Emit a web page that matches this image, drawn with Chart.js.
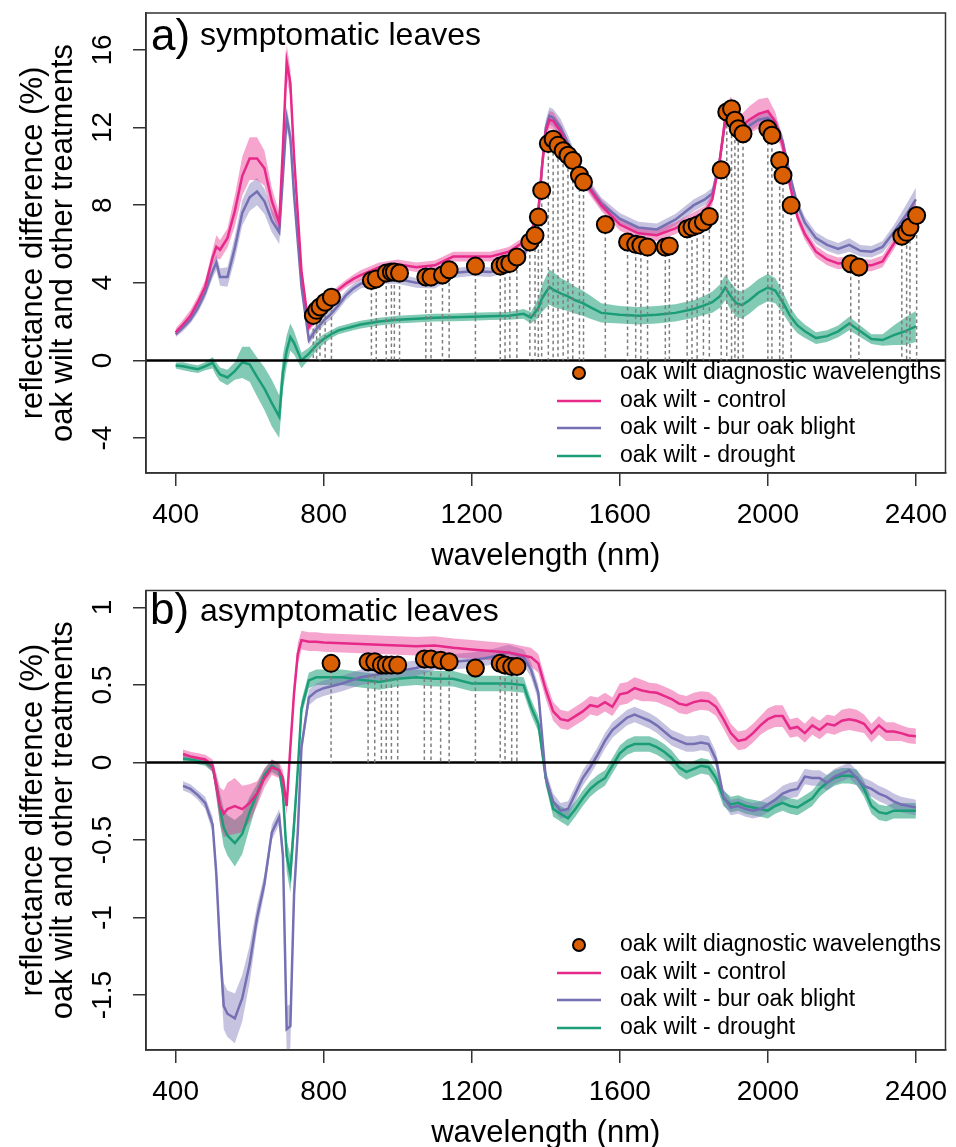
<!DOCTYPE html>
<html><head><meta charset="utf-8">
<script src="https://cdn.jsdelivr.net/npm/chart.js@4.4.0/dist/chart.umd.min.js"></script>
<style>
html,body{margin:0;padding:0;background:#fff;overflow:hidden;width:956px;height:1147px}
canvas{position:absolute;left:0}
#ca{top:0}
#cb{top:580px}
</style></head><body>
<canvas id="ca" width="956" height="580"></canvas>
<canvas id="cb" width="956" height="580"></canvas>
<script>
// ---------- panel a) symptomatic leaves ----------
const wlA = [400,420,440,460,480, 500,510,520,540,560, 580,600,620,640,660, 680,690,700,710,720,
  740,760,780,800,820, 840,860,880,900,950, 1000,1050,1100,1150,1200, 1250,1300,1340,1360,1380,
  1390,1400,1410,1420,1440, 1460,1480,1500,1520,1550, 1600,1650,1700,1750,1800, 1830,1850,1870,1885,1900,
  1915,1930,1950,1975,2000, 2020,2040,2060,2080,2100, 2130,2160,2190,2220,2250, 2280,2310,2340,2370,2400];
const controlA = [1.45,1.85,2.3,3.0,3.8, 5.3,5.85,5.7,6.3,7.7, 9.5,10.4,10.4,9.9,8.2, 7.1,11.0,15.4,14.3,10.5,
  4.6,1.7,2.2,2.9,3.3, 3.65,3.95,4.2,4.4,4.8, 4.95,4.8,4.9,5.35,5.35, 5.35,5.6,6.1,6.6,7.7,
  10.0,11.8,12.4,12.35,11.8, 11.0,10.1,9.4,8.8,8.0, 7.0,6.55,6.45,6.8,7.35, 7.65,8.3,10.3,12.5,12.9,
  12.4,12.1,12.4,12.7,12.85, 12.3,11.1,9.0,7.4,6.5, 5.6,5.2,5.0,5.05,4.9, 4.9,5.1,6.0,7.0,7.9];
const burA = [1.35,1.7,2.1,2.7,3.5, 4.6,5.05,4.3,4.3,5.8, 7.6,8.4,8.7,8.2,7.2, 6.6,9.5,12.5,11.5,8.5,
  3.8,1.05,1.6,2.05,2.4, 2.85,3.35,3.7,3.95,4.2, 4.2,4.0,3.95,4.5,4.6, 4.55,4.8,5.4,6.2,7.6,
  10.0,12.0,12.6,12.5,12.0, 11.2,10.3,9.5,8.9,8.1, 7.3,6.85,6.75,7.25,8.0, 8.3,8.6,10.3,12.3,12.7,
  12.2,11.9,12.1,12.4,12.5, 12.2,11.3,9.5,8.0,7.1, 6.3,5.95,5.75,5.95,5.65, 5.6,5.85,6.6,7.4,8.3];
const droughtA = [-0.26,-0.3,-0.38,-0.45,-0.3, -0.12,-0.45,-0.72,-0.88,-0.55, -0.1,-0.2,-0.85,-1.45,-2.2, -2.9,-0.6,0.5,1.2,0.9,
  0.0,0.35,0.78,1.1,1.35, 1.55,1.65,1.75,1.85,2.0, 2.1,2.15,2.2,2.22,2.25, 2.28,2.3,2.4,2.2,2.7,
  3.2,3.5,3.78,3.65,3.45, 3.3,3.1,2.95,2.75,2.45, 2.35,2.3,2.35,2.45,2.65, 2.85,3.0,3.3,3.75,3.3,
  2.95,2.85,3.1,3.5,3.75, 3.6,3.0,2.3,1.8,1.5, 1.15,1.25,1.5,1.9,1.5, 1.1,1.05,1.3,1.5,1.75];
const controlBandA = [0.2,0.25,0.3,0.3,0.35, 0.4,0.6,0.5,0.5,0.8, 1.0,1.1,1.1,0.9,0.7, 0.5,0.7,0.9,0.7,0.5,
  0.4,0.25,0.2,0.2,0.2, 0.2,0.2,0.22,0.25,0.25, 0.25,0.25,0.25,0.25,0.25, 0.25,0.25,0.25,0.25,0.3,
  0.35,0.4,0.45,0.45,0.4, 0.35,0.35,0.3,0.3,0.3, 0.3,0.3,0.3,0.3,0.3, 0.3,0.3,0.35,0.5,0.7,
  0.6,0.6,0.7,0.75,0.7, 0.5,0.4,0.3,0.3,0.3, 0.3,0.3,0.3,0.3,0.3, 0.3,0.3,0.3,0.35,0.45];
const burBandA = [0.15,0.2,0.2,0.25,0.3, 0.35,0.4,0.45,0.5,0.6, 0.65,0.7,0.7,0.65,0.6, 0.6,0.6,0.6,0.5,0.4,
  0.3,0.25,0.25,0.25,0.25, 0.25,0.25,0.25,0.25,0.25, 0.25,0.25,0.25,0.25,0.25, 0.25,0.25,0.25,0.25,0.25,
  0.35,0.4,0.45,0.45,0.45, 0.4,0.4,0.35,0.3,0.3, 0.3,0.3,0.3,0.3,0.3, 0.3,0.3,0.3,0.3,0.3,
  0.3,0.3,0.3,0.3,0.3, 0.3,0.3,0.3,0.3,0.3, 0.3,0.3,0.3,0.35,0.3, 0.3,0.3,0.35,0.5,0.6];
const droughtBandA = [0.15,0.2,0.2,0.2,0.2, 0.3,0.35,0.35,0.4,0.45, 0.8,0.9,1.0,1.1,1.2, 1.1,0.9,0.8,0.7,0.6,
  0.4,0.3,0.3,0.25,0.2, 0.2,0.2,0.2,0.2,0.2, 0.2,0.2,0.2,0.2,0.2, 0.2,0.2,0.25,0.3,0.5,
  0.7,0.8,0.9,0.9,0.8, 0.75,0.7,0.65,0.6,0.5, 0.45,0.45,0.45,0.45,0.45, 0.5,0.55,0.6,0.65,0.7,
  0.7,0.7,0.7,0.7,0.7, 0.65,0.55,0.45,0.4,0.35, 0.3,0.3,0.3,0.35,0.3, 0.25,0.3,0.5,0.7,0.8];
const diagWlA = [772,781,790,804,821, 929,942,969,983,991,1005, 1076,1090,1121,1139, 1210,
  1277,1290,1303,1322, 1357,1371,1380,1389,1407,1420,1433,1447,1460,1473,1491,1502, 1561,
  1621,1643,1657,1675, 1723,1734, 1782,1795,1809,1826,1842, 1874,1889,1902,1911,1920,1933,
  2000,2011,2032,2041,2063, 2224,2246, 2362,2375,2384,2402];
const diagValA = [2.32,2.58,2.75,3.0,3.26, 4.12,4.2,4.5,4.55,4.55,4.5, 4.3,4.3,4.4,4.67, 4.86,
  4.86,4.95,5.0,5.33, 6.1,6.44,7.39,8.76,11.17,11.4,11.08,10.8,10.57,10.3,9.54,9.19, 7.0,
  6.1,5.98,5.93,5.84, 5.84,5.9, 6.78,6.87,6.96,7.13,7.42, 9.82,12.8,12.97,12.37,11.94,11.68,
  11.94,11.6,10.3,9.54,7.99, 4.98,4.81, 6.4,6.6,6.87,7.47];
const yTicksA = [-4,0,4,8,12,16];

// ---------- panel b) asymptomatic leaves ----------
const wlB = [420,440,460,480,500, 510,520,530,540, 560,580,600,620,640,660,680, 690,700,710,720,730,740,
  760,780,800, 850,900,950,1000,1050,1100,1150,1200,1250,1300, 1340,1360,
  1380,1400,1420,1440,1460,1480,1500,1520,1540,1560, 1580,1600,1620,1640,1660,1680,1700,1720,1740,1760,
  1780,1800,1820,1840,1860,1880,1900,1920,1940,1960, 1980,2000,2020,2040,2060,2080,2100,2120,2140,2160,
  2180,2200,2220,2240,2260,2280,2300,2320,2340,2360, 2380,2400];
const controlB = [0.055,0.04,0.03,0.02,-0.02, -0.15,-0.28,-0.33,-0.3, -0.28,-0.3,-0.26,-0.2,-0.1,-0.03,-0.05, -0.1,-0.28,0.1,0.45,0.7,0.79,
  0.78,0.78,0.775, 0.77,0.765,0.76,0.755,0.75,0.755,0.74,0.73,0.72,0.71, 0.69,0.68,
  0.64,0.47,0.33,0.28,0.27,0.3,0.33,0.37,0.36,0.39, 0.36,0.44,0.45,0.48,0.465,0.455,0.45,0.43,0.41,0.38,
  0.37,0.39,0.40,0.395,0.36,0.28,0.19,0.14,0.15,0.19, 0.24,0.28,0.3,0.3,0.22,0.23,0.19,0.24,0.21,0.25,
  0.24,0.27,0.28,0.27,0.25,0.19,0.24,0.2,0.2,0.19, 0.175,0.17];
const burB = [-0.15,-0.17,-0.21,-0.26,-0.4, -0.72,-1.2,-1.57,-1.62, -1.65,-1.52,-1.3,-1.0,-0.78,-0.45,-0.35, -0.6,-1.72,-1.7,-0.85,-0.45,0.1,
  0.42,0.46,0.48, 0.51,0.55,0.57,0.59,0.61,0.645,0.65,0.66,0.68,0.71, 0.68,0.6,
  0.45,-0.1,-0.25,-0.31,-0.3,-0.2,-0.1,-0.03,0.05,0.14, 0.21,0.25,0.29,0.31,0.29,0.27,0.24,0.2,0.16,0.14,
  0.12,0.12,0.13,0.12,0.02,-0.22,-0.29,-0.28,-0.3,-0.31, -0.3,-0.27,-0.24,-0.2,-0.18,-0.17,-0.09,-0.1,-0.1,-0.13,
  -0.09,-0.07,-0.05,-0.1,-0.15,-0.17,-0.2,-0.22,-0.25,-0.27, -0.28,-0.29];
const droughtB = [0.025,0.02,0.01,0.0,-0.03, -0.15,-0.3,-0.42,-0.47, -0.52,-0.46,-0.32,-0.2,-0.08,-0.02,-0.05, -0.2,-0.6,-0.72,-0.4,-0.05,0.35,
  0.53,0.55,0.55, 0.55,0.535,0.52,0.54,0.55,0.54,0.54,0.51,0.51,0.51, 0.5,0.36,
  0.25,-0.1,-0.3,-0.33,-0.36,-0.3,-0.23,-0.17,-0.13,-0.1, -0.02,0.06,0.1,0.12,0.12,0.12,0.1,0.07,0.03,-0.03,
  -0.06,-0.04,-0.02,-0.03,-0.1,-0.23,-0.27,-0.26,-0.28,-0.29, -0.3,-0.31,-0.28,-0.26,-0.28,-0.29,-0.26,-0.23,-0.17,-0.13,
  -0.1,-0.085,-0.085,-0.095,-0.17,-0.28,-0.32,-0.33,-0.31,-0.31, -0.31,-0.31];
const controlBandB = [0.03,0.03,0.03,0.03,0.04, 0.08,0.12,0.15,0.17, 0.18,0.15,0.12,0.08,0.06,0.05,0.05, 0.05,0.06,0.07,0.07,0.07,0.06,
  0.06,0.06,0.06, 0.06,0.06,0.06,0.06,0.06,0.06,0.06,0.06,0.06,0.06, 0.06,0.06,
  0.06,0.06,0.06,0.06,0.06,0.06,0.06,0.06,0.06,0.06, 0.06,0.07,0.07,0.07,0.07,0.06,0.06,0.06,0.06,0.06,
  0.06,0.06,0.06,0.06,0.06,0.06,0.06,0.06,0.06,0.06, 0.06,0.07,0.07,0.07,0.06,0.06,0.06,0.06,0.06,0.06,
  0.06,0.07,0.07,0.07,0.06,0.06,0.06,0.06,0.06,0.05, 0.05,0.05];
const burBandB = [0.03,0.03,0.03,0.04,0.05, 0.08,0.12,0.15,0.15, 0.16,0.15,0.12,0.08,0.06,0.05,0.05, 0.08,0.15,0.14,0.08,0.06,0.05,
  0.05,0.05,0.05, 0.05,0.05,0.05,0.05,0.05,0.05,0.05,0.05,0.05,0.05, 0.05,0.05,
  0.05,0.05,0.05,0.05,0.05,0.05,0.05,0.05,0.05,0.05, 0.05,0.05,0.05,0.05,0.05,0.05,0.05,0.05,0.05,0.05,
  0.05,0.05,0.05,0.05,0.05,0.05,0.05,0.05,0.05,0.05, 0.05,0.05,0.05,0.05,0.05,0.05,0.05,0.05,0.05,0.05,
  0.05,0.05,0.05,0.05,0.05,0.05,0.05,0.05,0.05,0.05, 0.05,0.05];
const droughtBandB = [0.02,0.02,0.02,0.02,0.03, 0.06,0.1,0.12,0.13, 0.15,0.13,0.1,0.06,0.04,0.04,0.04, 0.06,0.1,0.12,0.1,0.06,0.05,
  0.05,0.05,0.05, 0.05,0.05,0.05,0.05,0.05,0.05,0.05,0.05,0.05,0.05, 0.05,0.05,
  0.05,0.05,0.05,0.05,0.05,0.05,0.05,0.05,0.05,0.05, 0.05,0.05,0.05,0.05,0.05,0.05,0.05,0.05,0.05,0.05,
  0.05,0.05,0.05,0.05,0.05,0.05,0.05,0.05,0.05,0.05, 0.05,0.05,0.05,0.05,0.05,0.05,0.05,0.05,0.05,0.05,
  0.05,0.05,0.05,0.05,0.05,0.05,0.05,0.05,0.05,0.05, 0.05,0.05];
const diagWlB = [820,920,938,956,969,983,1000,1072,1090,1116,1139,1210,1277,1290,1308,1322];
const diagValB = [0.64,0.65,0.65,0.63,0.63,0.63,0.63,0.668,0.668,0.66,0.65,0.61,0.64,0.63,0.62,0.62];
const yTicksB = [-1.5,-1,-0.5,0,0.5,1];

// ---------- shared ----------
const xTicks = [400,800,1200,1600,2000,2400];
const seriesNames = ['oak wilt - control','oak wilt - bur oak blight','oak wilt - drought'];
const diagName = 'oak wilt diagnostic wavelengths';
const xTitle = 'wavelength (nm)';
const yTitle = ['reflectance difference (%)','oak wilt and other treatments'];

const FONT = "'Liberation Sans', Arial, Helvetica, sans-serif";
Chart.defaults.font.family = FONT;
Chart.defaults.color = '#000';

const LINE_COLS = ['#E7298A','#7570B3','#1B9E77'];
const FILL_COLS = ['rgba(231,41,138,0.42)','rgba(117,112,179,0.42)','rgba(27,158,119,0.55)'];

function xy(xs, ys){ return xs.map((x,i)=>({x:x, y:ys[i]})); }
function edge(xs, ys, hw, s){ return xs.map((x,i)=>({x:x, y:ys[i] + s*hw[i]})); }
function dashes(xs, ys){ const out=[]; xs.forEach((x,i)=>{ out.push({x:x,y:ys[i]},{x:x,y:0},{x:x,y:null}); }); return out; }

const decor = {
  id: 'decor',
  afterDraw(chart, args, o){
    const ctx = chart.ctx, a = chart.chartArea;
    ctx.save();
    ctx.strokeStyle = '#333'; ctx.lineWidth = 1.5;
    ctx.strokeRect(a.left, a.top, a.right - a.left, a.bottom - a.top);
    ctx.fillStyle = '#000'; ctx.textAlign = 'left'; ctx.textBaseline = 'alphabetic';
    ctx.font = '44px ' + FONT; ctx.fillText(o.tag, a.left + o.tagDx, a.top + o.tagDy);
    ctx.font = '32px ' + FONT; ctx.fillText(o.title, a.left + 54, a.top + o.titleDy);
    // legend
    const ds = chart.data.datasets;
    const entries = [ds[0]].concat([ds[3], ds[4], ds[5]]);
    ctx.font = '23px ' + FONT; ctx.textBaseline = 'middle';
    entries.forEach((d, i) => {
      const y = o.legendY[i];
      if (i === 0) {
        ctx.beginPath(); ctx.arc(579, y, 6, 0, Math.PI*2);
        ctx.fillStyle = d.pointBackgroundColor; ctx.fill();
        ctx.lineWidth = 2; ctx.strokeStyle = '#000'; ctx.stroke();
      } else {
        ctx.beginPath(); ctx.moveTo(557, y); ctx.lineTo(601, y);
        ctx.lineWidth = 2.5; ctx.strokeStyle = d.borderColor; ctx.stroke();
      }
      ctx.fillStyle = '#000';
      ctx.fillText(d.label, 620, y);
    });
    ctx.restore();
  }
};

function panel(id, p){
  const ds = [];
  ds.push({label: diagName, data: xy(p.diagW, p.diagV), showLine: false, pointRadius: 8.5,
    pointBackgroundColor: '#D95F02', pointBorderColor: '#000', pointBorderWidth: 2, order: 0});
  ds.push({label: 'dash', data: dashes(p.diagW, p.diagV), borderColor: '#7d7d7d', borderWidth: 1.5,
    borderDash: [3.5, 3], pointRadius: 0, spanGaps: false, order: 1});
  ds.push({label: 'zero', data: [{x:320,y:0},{x:2480,y:0}], borderColor: '#000', borderWidth: 2.5, pointRadius: 0, order: 2});
  p.lines.forEach((v,k) => ds.push({label: seriesNames[k], data: xy(p.wl, v), borderColor: LINE_COLS[k],
    borderWidth: 2.5, pointRadius: 0, order: 3 + k}));
  p.lines.forEach((v,k) => {
    ds.push({label: 'upper'+k, data: edge(p.wl, v, p.hw[k], 1), borderColor: 'rgba(0,0,0,0)', borderWidth: 0,
      pointRadius: 0, fill: '+1', backgroundColor: FILL_COLS[k], order: 6 + 2*k});
    ds.push({label: 'lower'+k, data: edge(p.wl, v, p.hw[k], -1), borderColor: 'rgba(0,0,0,0)', borderWidth: 0,
      pointRadius: 0, fill: false, order: 7 + 2*k});
  });
  const axisCommon = {
    grid: {drawOnChartArea: false, drawTicks: true, tickLength: 13, color: '#333', lineWidth: 1.5},
    border: {display: true, color: '#333', width: 1.5}
  };
  return new Chart(document.getElementById(id), {
    type: 'line',
    data: {datasets: ds},
    plugins: [decor],
    options: {
      responsive: false, animation: false, devicePixelRatio: 1, events: [],
      layout: {padding: {top: p.top, right: 3, left: 0, bottom: 0}},
      plugins: {legend: {display: false}, tooltip: {enabled: false}, decor: p.decor},
      scales: {
        x: Object.assign({}, axisCommon, {
          type: 'linear', min: 320, max: 2480,
          afterBuildTicks: s => { s.ticks = xTicks.map(v => ({value: v})); },
          afterFit: s => { s.height = p.xH; s.paddingLeft = 0; s.paddingRight = 0; s.paddingTop = 0; s.paddingBottom = 0; },
          ticks: {font: {size: 28, lineHeight: '58px'}, padding: 0, minRotation: 0, maxRotation: 0, autoSkip: false, color: '#000',
            callback: v => String(v)},
          title: {display: true, text: xTitle, color: '#000', font: {size: 31, lineHeight: '30px'}, padding: {top: 0, bottom: p.xTitlePad}}
        }),
        y: Object.assign({}, axisCommon, {
          type: 'linear', min: p.ymin, max: p.ymax,
          afterBuildTicks: s => { s.ticks = p.yTicks.map(v => ({value: v})); },
          afterFit: s => { s.width = 146; s.paddingLeft = 0; s.paddingRight = 0; s.paddingTop = 0; s.paddingBottom = 0; },
          ticks: {font: {size: 28}, padding: p.yTickPad, minRotation: 90, maxRotation: 90, crossAlign: 'center', autoSkip: false, color: '#000',
            callback: v => String(v)},
          title: {display: true, text: yTitle, color: '#000', font: {size: 31, lineHeight: '30px'}, padding: {top: 18, bottom: 0}}
        })
      }
    }
  });
}

panel('ca', {
  wl: wlA, lines: [controlA, burA, droughtA], hw: [controlBandA, burBandA, droughtBandA],
  diagW: diagWlA, diagV: diagValA, yTicks: yTicksA, ymin: -5.8, ymax: 17.9,
  top: 13, xH: 107, xTitlePad: 9, yTickPad: 14,
  decor: {tag: 'a)', title: 'symptomatic leaves', tagDx: 5, tagDy: 37, titleDy: 32, legendY: [373, 401, 428, 456]}
});
panel('cb', {
  wl: wlB, lines: [controlB, burB, droughtB], hw: [controlBandB, burBandB, droughtBandB],
  diagW: diagWlB, diagV: diagValB, yTicks: yTicksB, ymin: -1.854, ymax: 1.11,
  top: 10, xH: 110, xTitlePad: 12, yTickPad: 5.5,
  decor: {tag: 'b)', title: 'asymptomatic leaves', tagDx: 4, tagDy: 33, titleDy: 30, legendY: [365, 393, 420, 448]}
});
</script>
</body></html>
